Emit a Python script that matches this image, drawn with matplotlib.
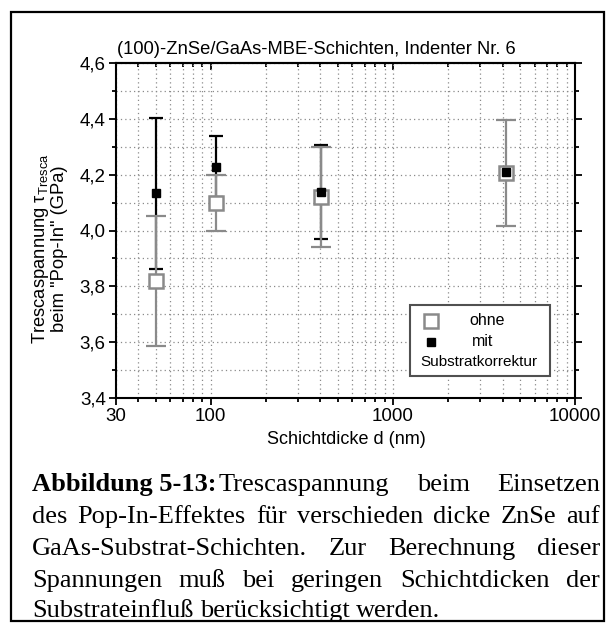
import numpy as np
import matplotlib
matplotlib.use("Agg")
import matplotlib.pyplot as plt
from matplotlib.ticker import FixedLocator, FuncFormatter, NullFormatter
from matplotlib.patches import Rectangle

plt.rcParams['font.family'] = ['Liberation Sans', 'DejaVu Sans']
plt.rcParams['mathtext.fontset'] = 'custom'
plt.rcParams['mathtext.rm'] = 'Liberation Sans'
plt.rcParams['mathtext.it'] = 'Liberation Sans:italic'

# data
d_nm = [50, 107, 405, 4200]
ohne = [3.82, 4.10, 4.12, 4.205]
ohne_err = [0.232, 0.10, 0.178, 0.19]
mit = [4.133, 4.229, 4.138, 4.208]
mit_err = [0.27, 0.108, 0.168, 0.015]

y_ticks = [3.4, 3.6, 3.8, 4.0, 4.2, 4.4, 4.6]
y_minor = [3.5, 3.7, 3.9, 4.1, 4.3, 4.5]
x_ticks = [30, 100, 1000, 10000]
x_minor = [40, 50, 60, 70, 80, 90, 200, 300, 400, 500, 600, 700, 800, 900,
           2000, 3000, 4000, 5000, 6000, 7000, 8000, 9000]

title = "(100)-ZnSe/GaAs-MBE-Schichten, Indenter Nr. 6"
caption_lines = [
    [[("Abbildung 5-13:", "bold"), ("Trescaspannung", "normal")], [("beim", "normal")], [("Einsetzen", "normal")]],
    "des Pop-In-Effektes für verschieden dicke ZnSe auf",
    "GaAs-Substrat-Schichten. Zur Berechnung dieser",
    "Spannungen muß bei geringen Schichtdicken der",
    "Substrateinfluß berücksichtigt werden.",
]

W, H = 611, 624
fig = plt.figure(figsize=(W / 100, H / 100), dpi=100)
ax = fig.add_axes([115.5 / W, 1 - 398 / H, (575 - 115.5) / W, (398 - 63) / H])

gray = '#8a8a8a'

# black error bars first, gray ones over them, then markers
ax.errorbar(d_nm, mit, yerr=mit_err, fmt='none', ecolor='black', elinewidth=1.6,
            capsize=5, capthick=1.6, zorder=3)
ax.errorbar(d_nm, ohne, yerr=ohne_err, fmt='none', ecolor=gray, elinewidth=1.6,
            capsize=7.5, capthick=1.6, zorder=4)
ax.plot(d_nm, ohne, 's', ms=9.5, mfc='white', mec=gray, mew=1.8, zorder=5)
ax.plot(d_nm, mit, 's', ms=5.5, mfc='black', mec='black', zorder=6)

ax.set_xscale('log')
ax.set_xlim(30, 10000)
ax.set_ylim(3.4, 4.6)

ax.xaxis.set_major_locator(FixedLocator(x_ticks))
ax.xaxis.set_minor_locator(FixedLocator(x_minor))
ax.xaxis.set_major_formatter(FuncFormatter(lambda v, p: "%d" % v))
ax.xaxis.set_minor_formatter(NullFormatter())
ax.yaxis.set_major_locator(FixedLocator(y_ticks))
ax.yaxis.set_minor_locator(FixedLocator(y_minor))
ax.yaxis.set_major_formatter(FuncFormatter(lambda v, p: ("%.1f" % v).replace('.', ',')))

ax.grid(True, which='both', color='#8a8a8a', linestyle=(0, (1, 2.5)), linewidth=0.9)
ax.set_axisbelow(True)

for s in ax.spines.values():
    s.set_linewidth(1.5)
ax.tick_params(which='both', direction='out', width=1.3, labelsize=13.5, right=True, pad=2)
ax.tick_params(which='major', length=5)
ax.tick_params(which='minor', length=3)

# top ticks point inwards
top = ax.secondary_xaxis('top')
top.xaxis.set_major_locator(FixedLocator(x_ticks))
top.xaxis.set_minor_locator(FixedLocator(x_minor))
top.tick_params(which='both', direction='in', width=1.3, labeltop=False)
top.tick_params(which='major', length=5)
top.tick_params(which='minor', length=3)
top.spines['top'].set_linewidth(1.5)

fig.text(117 / W, 1 - 49 / H, title, fontsize=13.2, ha='left', va='center')
fig.text(346 / W, 1 - 440 / H, "Schichtdicke d (nm)", fontsize=13, ha='center', va='center')
fig.text(49 / W, 1 - 249 / H, "Trescaspannung τ$_{\\mathrm{Tresca}}$\nbeim \"Pop-In\" (GPa)",
         fontsize=13.2, rotation=90, ha='center', va='center', multialignment='center',
         linespacing=1.05)

# legend box
ax.add_patch(Rectangle((0.641, 0.066), 0.305, 0.212, transform=ax.transAxes,
                       facecolor='white', edgecolor='#505050', lw=1.5, zorder=7))
ax.plot([0.686], [0.230], 's', ms=9.5, mfc='white', mec=gray, mew=1.8,
        transform=ax.transAxes, zorder=8, clip_on=False)
ax.plot([0.686], [0.168], 's', ms=5.5, mfc='black', mec='black',
        transform=ax.transAxes, zorder=8, clip_on=False)
ax.text(0.808, 0.230, "ohne", transform=ax.transAxes, fontsize=11.5, ha='center', va='center', zorder=8)
ax.text(0.800, 0.168, "mit", transform=ax.transAxes, fontsize=11.5, ha='center', va='center', zorder=8)
ax.text(0.791, 0.106, "Substratkorrektur", transform=ax.transAxes, fontsize=11, ha='center',
        va='center', zorder=8)

# outer frame of the figure
fig.add_artist(Rectangle((11 / W, 1 - 621 / H), (604 - 11) / W, (621 - 12) / H,
                         transform=fig.transFigure, fill=False, edgecolor='black', lw=1.6))

# caption, justified like the original text block
cap_left, cap_right = 32, 600
baselines = [491, 523, 555, 587, 617]
cap_size = 19
renderer = fig.canvas.get_renderer()

for i, line in enumerate(caption_lines):
    if isinstance(line, str):
        words = [[(w, 'normal')] for w in line.split()]
    else:
        words = line
    y = 1 - baselines[i] / H
    # draw each word (pieces glued together) and measure
    word_arts = []
    widths = []
    for pieces in words:
        arts = []
        wsum = 0
        for k, (txt, wt) in enumerate(pieces):
            t = fig.text(0, y, txt, fontsize=cap_size, fontweight=wt,
                         family='Liberation Serif', ha='left', va='baseline')
            w = t.get_window_extent(renderer).width
            arts.append((t, w))
            wsum += w + (2 if k < len(pieces) - 1 else 0)
        word_arts.append(arts)
        widths.append(wsum)
    last = i == len(caption_lines) - 1
    if last:
        t0 = fig.text(0, 0, "a b", fontsize=cap_size, family='Liberation Serif')
        t1 = fig.text(0, 0, "ab", fontsize=cap_size, family='Liberation Serif')
        gap = t0.get_window_extent(renderer).width - t1.get_window_extent(renderer).width
        t0.remove()
        t1.remove()
    else:
        gap = (cap_right - cap_left - sum(widths)) / (len(words) - 1)
    x = cap_left
    for arts, w in zip(word_arts, widths):
        xx = x
        for t, tw in arts:
            t.set_x(xx / W)
            xx += tw + 2
        x += w + gap

fig.savefig("out.png", dpi=100)
